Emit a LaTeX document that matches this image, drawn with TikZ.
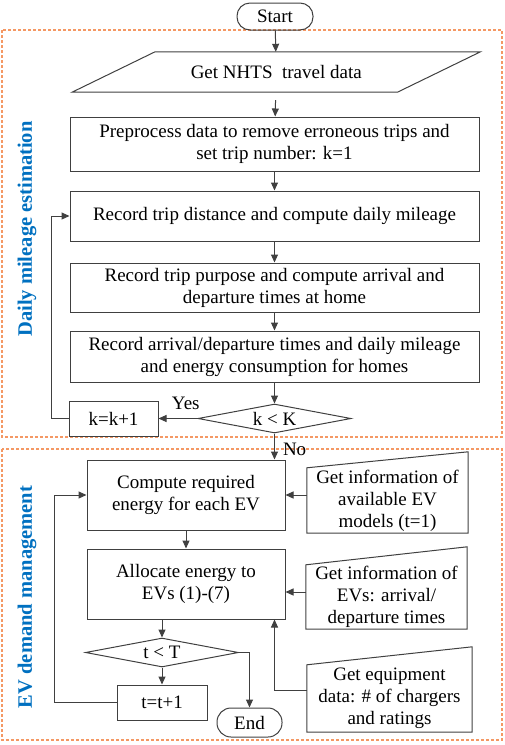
\documentclass[tikz,border=0pt]{standalone}
\usepackage{fontspec}
\setmainfont{Liberation Serif}
\usetikzlibrary{arrows.meta, positioning, calc, shapes}
\definecolor{labelblue}{RGB}{0,112,192}
\definecolor{frameorange}{RGB}{244,152,100}
\definecolor{linegray}{RGB}{64,64,64}

\begin{document}
\begin{tikzpicture}[x=1pt, y=-1pt,
  txt/.style={font=\fontsize{19}{22}\selectfont, align=center, inner sep=0pt},
  box/.style={txt, draw=linegray, line width=1pt},
  term/.style={box, rounded corners=13pt},
  decision/.style={box, diamond, aspect=5},
  flow/.style={draw=linegray, line width=1pt, -{Triangle[length=8pt, width=7pt]}},
  frame/.style={draw=frameorange, line width=1.3pt, dash pattern=on 3pt off 2pt},
  side/.style={font=\fontsize{20.5}{24}\selectfont\bfseries, text=labelblue, rotate=90, inner sep=0pt}]
  \useasboundingbox (0,0) rectangle (505,745);
  % dashed frames and their titles
  \draw[frame] (2,30) rectangle (502,437);
  \draw[frame] (2,449) rectangle (502,740);
  \node[side] (lblA) at (27,229) {Daily mileage estimation};
  \node[side] (lblB) at (27,597) {EV demand management};

  % upper part
  \node[term, minimum width=76, minimum height=27] (start) at (275,16.5) {Start};
  \node[txt, minimum width=325, minimum height=40] (nhts) at (276.25,72) {Get NHTS~ travel data};
  \draw[linegray, line width=1pt] ([xshift=-41.5pt]nhts.south west) -- ([xshift=41.5pt]nhts.north west)
    -- ([xshift=41.5pt]nhts.north east) -- ([xshift=-41.5pt]nhts.south east) -- cycle;
  \node[box, minimum width=409, minimum height=54] (prep) at (274.5,144) {Preprocess data to remove erroneous trips and\\set trip number: k=1};
  \node[box, minimum width=409, minimum height=50] (dist) at (274.5,216) {Record trip distance and compute daily mileage};
  \node[box, minimum width=409, minimum height=49] (purp) at (274.5,287.5) {Record trip purpose and compute arrival and\\departure times at home};
  \node[box, minimum width=409, minimum height=51] (homes) at (274.5,356.5) {Record arrival/departure times and daily mileage\\and energy consumption for homes};
  \node[decision, minimum width=153, minimum height=29] (kK) at (274.5,418.5) {k < K};
  \node[box, minimum width=89, minimum height=35] (kinc) at (113.5,418.5) {k=k+1};

  % lower part
  \node[box, minimum width=198, minimum height=70] (comp) at (186,495) {Compute required\\energy for each EV};
  \node[box, minimum width=198, minimum height=70] (alloc) at (186,584) {Allocate energy to\\EVs (1)-(7)};
  \node[decision, minimum width=153, minimum height=29] (tT) at (162,652.5) {t < T};
  \node[box, minimum width=90, minimum height=35] (tinc) at (162,702.5) {t=t+1};
  \node[term, rounded corners=14pt, minimum width=65, minimum height=29] (stop) at (249.5,722.5) {End};
  \node[txt, minimum width=161, minimum height=65] (evinfo) at (387.5,500.5) {Get information of\\available EV\\models (t=1)};
  \node[txt, minimum width=161, minimum height=64] (evtimes) at (386.5,597) {Get information of\\EVs: arrival/\\departure times};
  \node[txt, minimum width=165, minimum height=67] (equip) at (389.5,698.5) {Get equipment\\data: \# of chargers\\and ratings};
  \foreach \n/\h in {evinfo/16, evtimes/18, equip/18}
    \draw[linegray, line width=1pt] (\n.south west) -- (\n.north west) -- ([yshift=\h pt]\n.north east) -- (\n.south east) -- cycle;

  % connectors
  \draw[flow] (start) -- (nhts);
  \draw[flow, shorten <=8pt] (nhts) -- (prep);
  \foreach \a/\b in {prep/dist, dist/purp, purp/homes, homes/kK}
    \draw[flow] (\a) -- (\b);
  \draw[flow] (kK.west) -- node[txt, above, pos=0.3, yshift=8pt] (yes) {Yes} (kinc.east);
  \draw[flow] (kinc.west) -- ++(-17,0) |- (dist.west);
  \draw[flow] (kK.south) -- node[txt, right, pos=0.6, xshift=8pt] (no) {No} (kK.south |- comp.north);
  \draw[flow] (comp) -- (alloc);
  \draw[flow] (tT.north |- alloc.south) -- (tT.north);
  \draw[flow] (tT) -- (tinc);
  \draw[flow] (tinc.west) -- ++(-62,0) |- (comp.west);
  \draw[flow] (tT.east) -| (stop.north);
  \draw[flow] (evinfo.west |- comp.east) -- (comp.east);
  \coordinate (evin) at ([yshift=5pt]evtimes.west);
  \coordinate (eqin) at ([yshift=8pt]equip.west);
  \draw[flow] (evin) -- (evin -| alloc.east);
  \draw[flow] (eqin) -| (kK.south |- alloc.south);
\end{tikzpicture}
\end{document}
